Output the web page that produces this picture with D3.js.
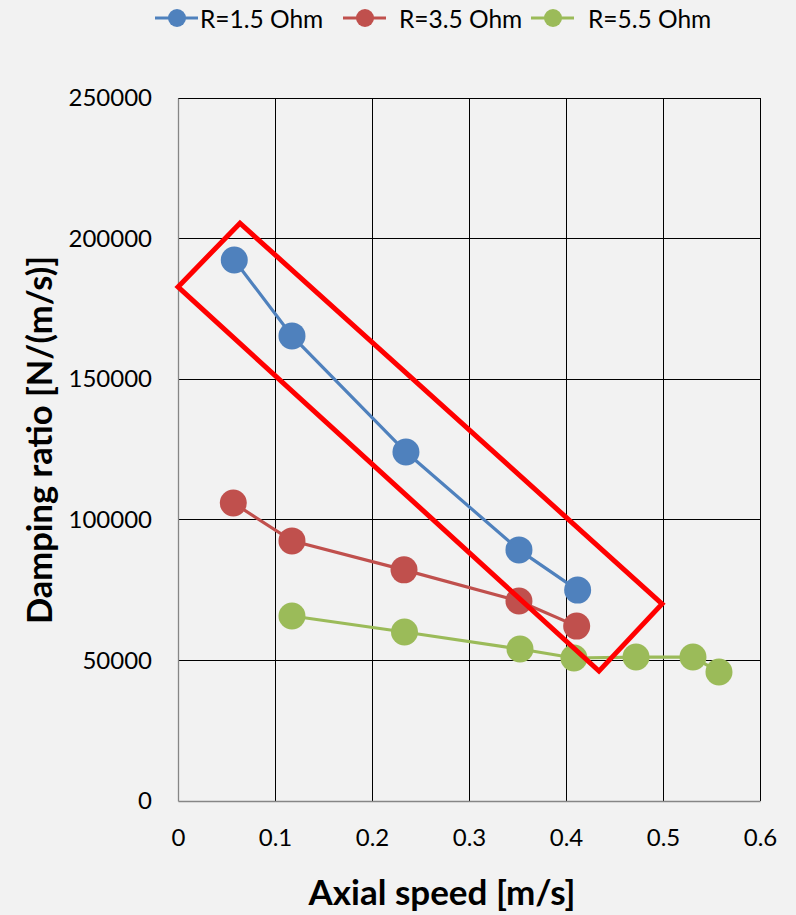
<!DOCTYPE html>
<html><head><meta charset="utf-8">
<script src="https://cdn.jsdelivr.net/npm/d3@7"></script>
<style>body{margin:0;background:#F2F2F2;}svg{display:block;}</style>
</head><body>
<script>
const seriesNames = ["R=1.5 Ohm","R=3.5 Ohm","R=5.5 Ohm"];
const seriesColors = ["#4F81BD","#C0504D","#9BBB59"];
const x15 = [0.058,0.1175,0.235,0.3515,0.412];
const y15 = [192400,165400,124100,89300,75000];
const x35 = [0.057,0.1175,0.233,0.3515,0.411];
const y35 = [106000,92500,82200,71100,62200];
const x55 = [0.1175,0.2335,0.3526,0.4082,0.4722,0.5309,0.5577];
const y55 = [65800,60100,54050,50850,51200,51200,45900];
const xTicks = [0,0.1,0.2,0.3,0.4,0.5,0.6];
const yTicks = [0,50000,100000,150000,200000,250000];
const boxX = [0,0.0639,0.499,0.434];
const boxY = [182800,205500,70100,46200];

const W=796,H=915;
const svg=d3.select("body").append("svg").attr("width",W).attr("height",H);
svg.append("rect").attr("width",W).attr("height",H).attr("fill","#F2F2F2");
const font="Lato, 'Open Sans', sans-serif";
const x=d3.scaleLinear().domain([0,0.6]).range([178,760]);
const y=d3.scaleLinear().domain([0,250000]).range([801,98]);

// gridlines
svg.append("g").selectAll("line.v").data(xTicks.slice(1)).join("line")
 .attr("x1",d=>x(d)).attr("x2",d=>x(d)).attr("y1",y(250000)).attr("y2",y(0))
 .attr("stroke","#000").attr("stroke-width",1).attr("shape-rendering","crispEdges");
svg.append("g").selectAll("line.h").data(yTicks.slice(1)).join("line")
 .attr("x1",x(0)).attr("x2",x(0.6)).attr("y1",d=>y(d)).attr("y2",d=>y(d))
 .attr("stroke","#000").attr("stroke-width",1).attr("shape-rendering","crispEdges");

// axes
const xa=svg.append("g").attr("transform",`translate(0,${y(0)})`)
 .call(d3.axisBottom(x).tickValues(xTicks).tickSize(0).tickPadding(28).tickFormat(d=>d===0?"0":d3.format(".1f")(d)));
const ya=svg.append("g").attr("transform",`translate(${x(0)},0)`)
 .call(d3.axisLeft(y).tickValues(yTicks).tickSize(0).tickPadding(26).tickFormat(d3.format("d")));
[xa,ya].forEach(a=>{a.select(".domain").attr("stroke","#868686").attr("stroke-width",1.3);
 a.selectAll("text").attr("font-family",font).attr("font-size",24).attr("fill","#000");});

// series
const series=[[x15,y15],[x35,y35],[x55,y55]];
const line=d3.line().x(d=>x(d[0])).y(d=>y(d[1]));
series.forEach((s,i)=>{
  const pts=s[0].map((v,j)=>[v,s[1][j]]);
  svg.append("path").attr("d",line(pts)).attr("fill","none").attr("stroke",seriesColors[i]).attr("stroke-width",3.2);
  svg.append("g").selectAll("circle").data(pts).join("circle")
   .attr("cx",d=>x(d[0])).attr("cy",d=>y(d[1])).attr("r",13.5).attr("fill",seriesColors[i]);
});

// red highlight box
const boxPts=boxX.map((v,j)=>[v,boxY[j]]);
svg.append("path").attr("d",line(boxPts)+"Z").attr("fill","none").attr("stroke","#FF0000")
 .attr("stroke-width",5).attr("stroke-linejoin","miter");

// legend
const lg=[{lx:155,tx:200},{lx:343,tx:399},{lx:531,tx:588}];
seriesNames.forEach((n,i)=>{
  const g=svg.append("g");
  g.append("line").attr("x1",lg[i].lx).attr("x2",lg[i].lx+43).attr("y1",18).attr("y2",18)
   .attr("stroke",seriesColors[i]).attr("stroke-width",3.2);
  g.append("circle").attr("cx",lg[i].lx+22).attr("cy",18).attr("r",9).attr("fill",seriesColors[i]);
  g.append("text").attr("x",lg[i].tx).attr("y",19).attr("dy","0.35em").attr("font-family",font)
   .attr("font-size",24.5).attr("fill","#000").text(n);
});

// axis titles
svg.append("text").attr("x",442).attr("y",893).attr("dy","0.35em").attr("text-anchor","middle")
 .attr("font-family",font).attr("font-weight","bold").attr("font-size",35).text("Axial speed [m/s]");
svg.append("text").attr("transform",`translate(40,440) rotate(-90)`).attr("dy","0.35em").attr("text-anchor","middle")
 .attr("font-family",font).attr("font-weight","bold").attr("font-size",34.5).text("Damping ratio [N/(m/s)]");
</script>
</body></html>
